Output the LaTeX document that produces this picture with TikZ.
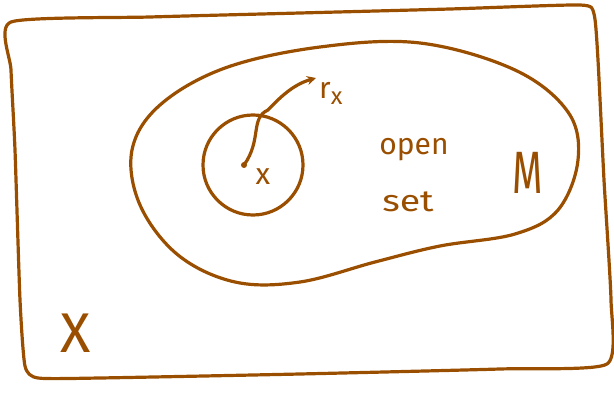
\documentclass[tikz,border=0pt]{standalone}
\usepackage{fontspec}
\setmainfont{Fira Sans}
\usetikzlibrary{arrows.meta}
\definecolor{ink}{RGB}{153,78,0}
\tikzset{
  pen/.style={draw=ink, line width=3.2pt, line cap=round, line join=round},
  hand/.style={text=ink, inner sep=0pt, font=\fontsize{#1}{#1}\selectfont},
}
\begin{document}
\begin{tikzpicture}[x=1pt,y=-1pt]
\useasboundingbox (0,0) rectangle (614,393);
% outer set X
\draw[pen] plot[smooth cycle, tension=0.35] coordinates {
  (11,22) (150,17) (300,13) (450,9) (580,5) (594,14) (598,60) (604,180)
  (611,300) (607,364) (500,369) (300,374) (100,378) (38,378) (25,366)
  (20,300) (15,150) (11,70)};
% open set M
\draw[pen] plot[smooth cycle, tension=0.6] coordinates {
  (132,150) (160,105) (225,68) (320,47) (420,43) (515,70) (568,112)
  (578,160) (558,210) (515,234) (440,246) (375,262) (300,282) (235,282)
  (178,255) (140,205)};
% ball around x
\node[circle, minimum size=100pt, pen] (ball) at (253,165) {};
\fill[ink] (244,165) circle (3pt);
\coordinate (c) at (244,165);
\coordinate (tip) at (316,78);
\draw[pen, -{Stealth[length=9pt,width=9pt]}] (c) .. controls (262,140) and (250,118) .. (268,110)
  .. controls (282,95) and (295,84) .. (tip);
% labels
\node[hand=30, anchor=base] (lx) at (263,185) {x};
\node[hand=30, anchor=base west] (lr) at (319,99) {r\raisebox{-6pt}{\fontsize{24}{24}\selectfont x}};
\node[hand=30] (lopen) at (414,150) {open};
\node[hand=30, xscale=1.25] (lset) at (408,202) {set};
\node[hand=46, xscale=0.85, yscale=1.3] (lM) at (528,173) {M};
\node[hand=56] (lX) at (76,333) {X};
\end{tikzpicture}
\end{document}
